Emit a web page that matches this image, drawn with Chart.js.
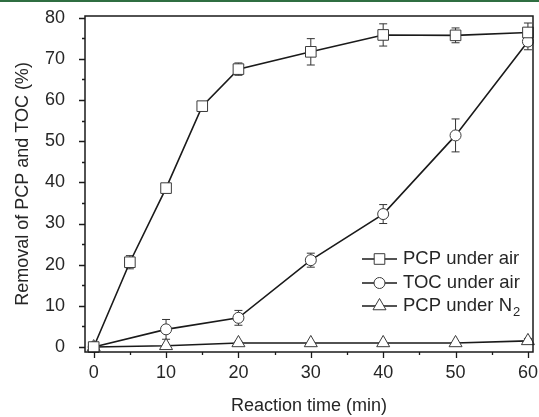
<!DOCTYPE html>
<html>
<head>
<meta charset="utf-8">
<script src="https://cdn.jsdelivr.net/npm/chart.js@4.4.0/dist/chart.umd.min.js"></script>
<style>
  html, body { margin: 0; padding: 0; background: #fff; }
  #wrap { position: relative; width: 539px; height: 417px; }
  #topbar { position: absolute; left: 0; top: 0; width: 539px; height: 2px; background: #2f6e41; }
  canvas { position: absolute; left: 0; top: 0; }
</style>
</head>
<body>
<div id="wrap">
  <canvas id="chart" width="539" height="417"></canvas>
  <div id="topbar"></div>
</div>
<script>
// reaction time (min)
const pcpAirTimes = [0, 5, 10, 15, 20, 30, 40, 50, 60];
const pcpAir      = [0, 20.6, 38.6, 58.5, 67.5, 71.7, 75.8, 75.7, 76.4];
const pcpAirErr   = [0.3, 1.6, 1.0, 0.6, 1.5, 3.2, 2.7, 1.8, 2.3];

const tocTimes  = [0, 10, 20, 30, 40, 50, 60];
const tocAir    = [0, 4.3, 7.1, 21.1, 32.3, 51.4, 74.2];
const tocAirErr = [0, 2.4, 1.8, 1.7, 2.3, 4.0, 2.0];

const n2Times = [0, 10, 20, 30, 40, 50, 60];
const pcpN2   = [0, 0.3, 1.0, 1.0, 1.0, 1.0, 1.5];
const pcpN2Err = [0, 0, 0.4, 0, 0, 0, 0.6];

const xTicks = [0, 10, 20, 30, 40, 50, 60];
const yTicks = [0, 10, 20, 30, 40, 50, 60, 70, 80];
const labels = ['PCP under air', 'TOC under air', 'PCP under N'];

const FONT = '"Liberation Sans", Arial, sans-serif';
const INK = '#262626';

function pts(xs, ys, es) {
  return xs.map((x, i) => ({ x: x, y: ys[i], err: es[i] }));
}

const markerBase = {
  borderColor: '#1a1a1a',
  borderWidth: 1.6,
  pointBackgroundColor: '#fff',
  pointBorderColor: '#3a3a3a',
  pointBorderWidth: 1,
  tension: 0,
  fill: false,
  clip: false
};

// error bars under the markers
const errorBars = {
  id: 'errorBars',
  beforeDatasetsDraw(chart) {
    const ctx = chart.ctx;
    const ys = chart.scales.y;
    ctx.save();
    ctx.strokeStyle = '#333';
    ctx.lineWidth = 1;
    chart.data.datasets.forEach((ds, di) => {
      const meta = chart.getDatasetMeta(di);
      ds.data.forEach((p, i) => {
        if (!p.err) return;
        const px = meta.data[i].x;
        const top = ys.getPixelForValue(p.y + p.err);
        const bot = ys.getPixelForValue(p.y - p.err);
        ctx.beginPath();
        ctx.moveTo(px, top); ctx.lineTo(px, bot);
        ctx.moveTo(px - 4, top); ctx.lineTo(px + 4, top);
        ctx.moveTo(px - 4, bot); ctx.lineTo(px + 4, bot);
        ctx.stroke();
      });
    });
    ctx.restore();
  }
};

// frame, outward ticks and the legend
const frameAndLegend = {
  id: 'frameAndLegend',
  afterDraw(chart) {
    const ctx = chart.ctx;
    const a = chart.chartArea;
    const xs = chart.scales.x, ys = chart.scales.y;
    ctx.save();
    ctx.strokeStyle = '#1a1a1a';
    ctx.lineWidth = 1.5;
    ctx.strokeRect(a.left, a.top, a.right - a.left, a.bottom - a.top);
    ctx.lineWidth = 1.3;
    ctx.beginPath();
    for (let v = 0; v <= 60; v += 5) {
      const px = Math.round(xs.getPixelForValue(v)) + 0.5;
      const len = v % 10 === 0 ? 6 : 3;
      ctx.moveTo(px, a.bottom); ctx.lineTo(px, a.bottom + len);
    }
    for (let v = 0; v <= 80; v += 5) {
      const py = Math.round(ys.getPixelForValue(v)) + 0.5;
      const len = v % 10 === 0 ? 6 : 3;
      ctx.moveTo(a.left, py); ctx.lineTo(a.left - len, py);
    }
    ctx.stroke();

    // legend
    const lx0 = 362, lx1 = 397, tx = 403;
    const rows = [259, 283, 306];
    chart.data.datasets.forEach((ds, di) => {
      const y = rows[di];
      ctx.strokeStyle = '#1a1a1a';
      ctx.lineWidth = 1.6;
      ctx.beginPath();
      ctx.moveTo(lx0, y); ctx.lineTo(lx1, y);
      ctx.stroke();
      ctx.fillStyle = '#fff';
      ctx.strokeStyle = '#3a3a3a';
      ctx.lineWidth = 1;
      Chart.helpers.drawPoint(ctx, { pointStyle: ds.pointStyle, radius: ds.pointRadius, borderWidth: 1 }, (lx0 + lx1) / 2, y);
      ctx.fillStyle = INK;
      ctx.font = '18.5px ' + FONT;
      ctx.textBaseline = 'middle';
      ctx.textAlign = 'left';
      ctx.fillText(labels[di], tx, y);
      if (di === 2) {
        const w = ctx.measureText(labels[di]).width;
        ctx.font = '13px ' + FONT;
        ctx.fillText('2', tx + w + 1, y + 6);
      }
    });
    ctx.restore();
  }
};

new Chart(document.getElementById('chart'), {
  type: 'line',
  data: {
    datasets: [
      Object.assign({}, markerBase, { label: labels[0], data: pts(pcpAirTimes, pcpAir, pcpAirErr), pointStyle: 'rect', pointRadius: 7.5 }),
      Object.assign({}, markerBase, { label: labels[1], data: pts(tocTimes, tocAir, tocAirErr), pointStyle: 'circle', pointRadius: 5.5 }),
      Object.assign({}, markerBase, { label: labels[2], data: pts(n2Times, pcpN2, pcpN2Err), pointStyle: 'triangle', pointRadius: 7.5 })
    ]
  },
  options: {
    responsive: false,
    animation: false,
    events: [],
    layout: { autoPadding: false, padding: { top: 16, right: 6, left: 0, bottom: 0 } },
    plugins: { legend: { display: false }, tooltip: { enabled: false } },
    scales: {
      x: {
        type: 'linear',
        min: -1.2,
        max: 60.7,
        border: { display: false },
        grid: { display: false },
        afterBuildTicks: (s) => { s.ticks = xTicks.map(v => ({ value: v })); },
        afterFit: (s) => { s.height = 65; s.paddingLeft = 0; s.paddingRight = 0; },
        ticks: { color: INK, font: { family: FONT, size: 18 }, padding: 2, maxRotation: 0 },
        title: { display: true, text: 'Reaction time (min)', color: INK, font: { family: FONT, size: 18 }, padding: { top: 0, bottom: 0 } }
      },
      y: {
        min: -1.2,
        max: 80.4,
        border: { display: false },
        grid: { display: false },
        afterBuildTicks: (s) => { s.ticks = yTicks.map(v => ({ value: v })); },
        afterFit: (s) => { s.width = 85; s.paddingTop = 0; s.paddingBottom = 0; },
        ticks: { color: INK, font: { family: FONT, size: 18 }, padding: 12 },
        title: { display: true, text: 'Removal of PCP and TOC (%)', color: INK, font: { family: FONT, size: 18 }, padding: { top: 12, bottom: 0 } }
      }
    }
  },
  plugins: [errorBars, frameAndLegend]
});
</script>
</body>
</html>
